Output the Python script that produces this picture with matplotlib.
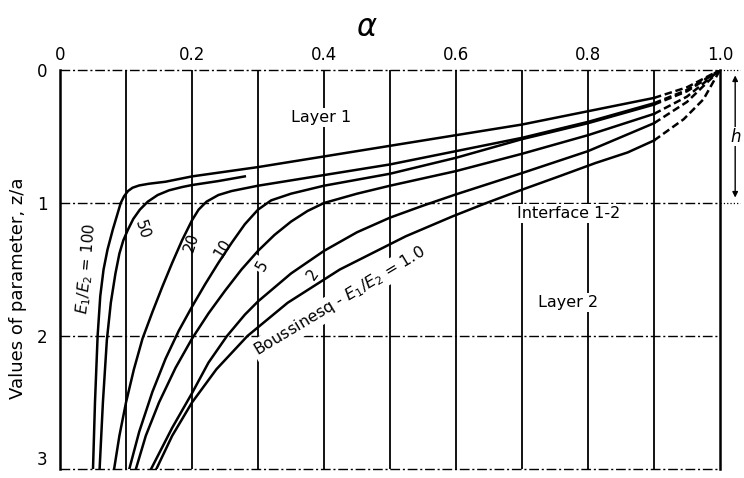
import matplotlib
matplotlib.use("Agg")
import matplotlib.pyplot as plt

# alpha (x) against depth z/a, one pair per E1/E2 curve
x_100 = [0.050, 0.053, 0.057, 0.061, 0.066, 0.072, 0.080, 0.086, 0.092, 0.097, 0.103,
         0.110, 0.120, 0.135, 0.160, 0.200, 0.300, 0.400, 0.500, 0.600, 0.700, 0.800,
         0.900, 0.950, 1.000]
z_100 = [3.00, 2.50, 2.00, 1.70, 1.50, 1.35, 1.20, 1.10, 1.00, 0.95, 0.91,
         0.885, 0.868, 0.855, 0.84, 0.80, 0.73, 0.65, 0.57, 0.49, 0.41, 0.31,
         0.21, 0.13, 0.00]

x_50 = [0.060, 0.065, 0.071, 0.077, 0.084, 0.090, 0.096, 0.103, 0.111, 0.121, 0.133,
        0.148, 0.165, 0.185, 0.200, 0.240, 0.280]
z_50 = [3.00, 2.50, 2.03, 1.75, 1.53, 1.38, 1.28, 1.20, 1.12, 1.05, 0.99,
        0.94, 0.905, 0.88, 0.865, 0.835, 0.80]

x_20 = [0.082, 0.090, 0.100, 0.112, 0.125, 0.140, 0.155, 0.170, 0.185, 0.200, 0.210,
        0.222, 0.240, 0.260, 0.300, 0.400, 0.500, 0.600, 0.700, 0.800, 0.900, 0.950,
        1.000]
z_20 = [3.00, 2.75, 2.50, 2.25, 2.02, 1.82, 1.63, 1.45, 1.28, 1.13, 1.05,
        0.99, 0.94, 0.91, 0.87, 0.79, 0.71, 0.61, 0.51, 0.39, 0.25, 0.15,
        0.00]

x_10 = [0.105, 0.120, 0.140, 0.160, 0.180, 0.200, 0.220, 0.240, 0.260, 0.280, 0.300,
        0.320, 0.350, 0.400, 0.500, 0.600, 0.700, 0.800, 0.900, 0.950, 1.000]
z_10 = [3.00, 2.72, 2.42, 2.17, 1.96, 1.78, 1.61, 1.45, 1.30, 1.16, 1.05,
        0.98, 0.93, 0.87, 0.78, 0.66, 0.52, 0.40, 0.26, 0.16, 0.00]

x_5 = [0.115, 0.130, 0.150, 0.175, 0.200, 0.225, 0.250, 0.275, 0.300, 0.325, 0.350,
       0.375, 0.400, 0.450, 0.500, 0.600, 0.700, 0.800, 0.900, 0.950, 1.000]
z_5 = [3.00, 2.75, 2.50, 2.24, 2.02, 1.83, 1.66, 1.50, 1.36, 1.24, 1.14,
       1.06, 1.00, 0.93, 0.87, 0.76, 0.63, 0.49, 0.33, 0.20, 0.00]

x_2 = [0.138, 0.170, 0.200, 0.225, 0.253, 0.280, 0.300, 0.350, 0.400, 0.450, 0.500,
       0.550, 0.600, 0.650, 0.700, 0.800, 0.900, 0.950, 1.000]
z_2 = [3.00, 2.69, 2.43, 2.20, 2.00, 1.84, 1.74, 1.53, 1.36, 1.22, 1.11,
       1.02, 0.935, 0.855, 0.775, 0.61, 0.40, 0.24, 0.00]

x_1 = [0.146, 0.170, 0.200, 0.237, 0.284, 0.345, 0.424, 0.524, 0.595, 0.646, 0.700,
       0.756, 0.811, 0.860, 0.900, 0.945, 0.975, 1.000]
z_1 = [3.00, 2.75, 2.50, 2.25, 2.00, 1.75, 1.50, 1.25, 1.10, 1.00, 0.90,
       0.80, 0.70, 0.62, 0.53, 0.37, 0.22, 0.00]

curves = [(x_100, z_100), (x_50, z_50), (x_20, z_20), (x_10, z_10),
          (x_5, z_5), (x_2, z_2), (x_1, z_1)]

x_ticks = [0, 0.2, 0.4, 0.6, 0.8, 1.0]
x_ticklabels = ["0", "0.2", "0.4", "0.6", "0.8", "1.0"]
z_ticks = [0, 1, 2, 3]
z_ticklabels = ["0", "1", "2", "3"]

fig = plt.figure(figsize=(7.44, 4.78), dpi=100, facecolor="white")
ax = fig.add_axes([60 / 744, 1 - 469 / 478, 660 / 744, 399 / 478])
ax.set_xlim(0, 1)
ax.set_ylim(3, 0)

# grid: solid verticals, dash-dot horizontals
for v in [0.1, 0.2, 0.3, 0.4, 0.5, 0.6, 0.7, 0.8, 0.9]:
    ax.axvline(v, color="black", lw=1.3, zorder=1)
dashdot = (0, (7, 2, 1.5, 2))
for h in [0, 1, 2, 3]:
    ax.axhline(h, color="black", lw=1.0, ls=dashdot, zorder=1, clip_on=False)
for h in [0, 1]:
    ax.plot([1.0, 1.03], [h, h], color="black", lw=0.9, ls=":", clip_on=False)
for side in ["top", "bottom"]:
    ax.spines[side].set_visible(False)
for side in ["left", "right"]:
    ax.spines[side].set_linewidth(1.8)

# curves, dashed where they run into the corner
for xs, zs in curves:
    solid = [(x, z) for x, z in zip(xs, zs) if x <= 0.9]
    tip = [(x, z) for x, z in zip(xs, zs) if x >= 0.9]
    ax.plot([p[0] for p in solid], [p[1] for p in solid], color="black", lw=1.8,
            zorder=3, solid_joinstyle="round")
    if len(tip) > 1:
        ax.plot([p[0] for p in tip], [p[1] for p in tip], color="black", lw=1.8,
                ls=(0, (3, 1.5)), zorder=3)

ax.xaxis.tick_top()
ax.set_xticks(x_ticks)
ax.set_xticklabels(x_ticklabels, fontsize=12)
ax.set_yticks(z_ticks)
ax.set_yticklabels(z_ticklabels, fontsize=12)
ax.tick_params(axis="x", length=0, pad=4)
ax.tick_params(axis="y", length=0, pad=9)
ax.get_yticklabels()[-1].set_verticalalignment("bottom")

box = dict(facecolor="white", edgecolor="none", pad=1.5)
ax.text(0.395, 0.36, "Layer 1", fontsize=11.5, ha="center", va="center", bbox=box, zorder=2)
ax.text(0.77, 1.08, "Interface 1-2", fontsize=11.5, ha="center", va="center", bbox=box, zorder=2)
ax.text(0.77, 1.75, "Layer 2", fontsize=11.5, ha="center", va="center", bbox=box, zorder=2)

ax.text(0.041, 1.49, r"$E_1/E_2$ = 100", fontsize=11, rotation=85, ha="center",
        va="center", zorder=2)
ax.text(0.124, 1.2, "50", fontsize=11, rotation=-72, ha="center", va="center", zorder=2)
ax.text(0.199, 1.30, "20", fontsize=11, rotation=72, ha="center", va="center", zorder=2)
ax.text(0.247, 1.34, "10", fontsize=11, rotation=58, ha="center", va="center", zorder=2)
ax.text(0.306, 1.47, "5", fontsize=11, rotation=60, ha="center", va="center",
        bbox=box, zorder=2)
ax.text(0.383, 1.54, "2", fontsize=11, rotation=55, ha="center", va="center", zorder=2)
ax.text(0.424, 1.74, r"Boussinesq - $E_1/E_2$ = 1.0", fontsize=11.5, rotation=31,
        ha="center", va="center", bbox=box, zorder=2)

# thickness marker h on the right edge
ax.annotate("", xy=(1.023, 0.02), xytext=(1.023, 0.98),
            arrowprops=dict(arrowstyle="<|-|>", color="black", lw=1, mutation_scale=8),
            annotation_clip=False)
ax.text(1.023, 0.5, "h", fontsize=12, style="italic", ha="center", va="center",
        clip_on=False, bbox=dict(facecolor="white", edgecolor="none", pad=0.5))

fig.text(367 / 744, 1 - 27 / 478, r"$\alpha$", fontsize=22, ha="center", va="center")
fig.text(18 / 744, 1 - 288 / 478, "Values of parameter, z/a", fontsize=13,
         rotation=90, ha="center", va="center")

fig.savefig("out.png", dpi=100, facecolor="white")
